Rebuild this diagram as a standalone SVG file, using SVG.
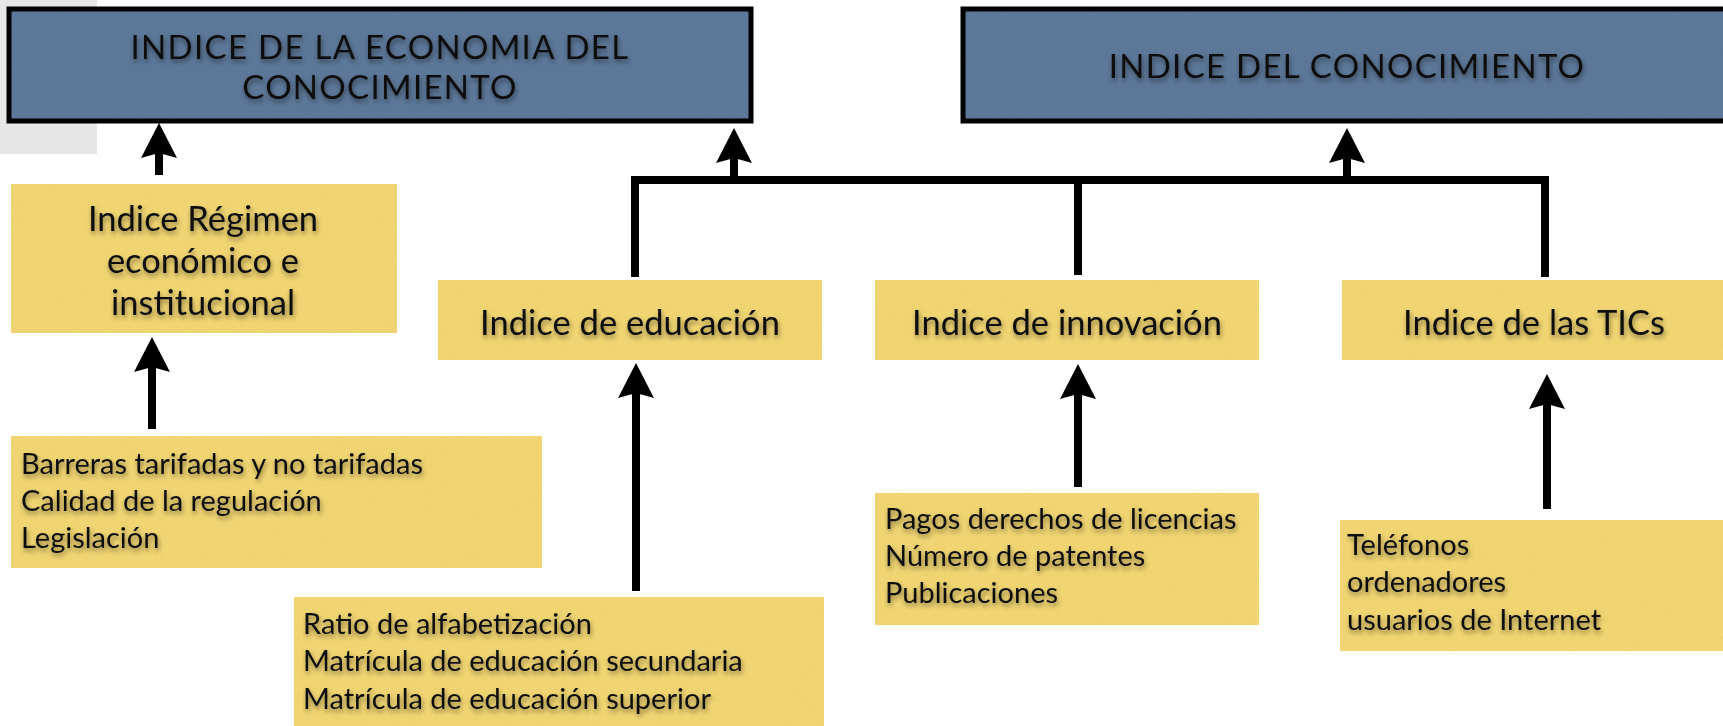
<svg xmlns="http://www.w3.org/2000/svg" width="1723" height="726" viewBox="0 0 1723 726">
  <defs>
    <style>
      .blue { fill: #5e7a9b; filter: url(#paper); }
      .border { fill: none; stroke: #000; stroke-width: 5; }
      .yellow { fill: #f5d975; filter: url(#paper); }
      .title { font-family: Lato, "Open Sans", sans-serif; font-size: 33px; letter-spacing: 1.3px; fill: #111; text-anchor: middle; filter: url(#shadow); }
      .head { font-family: Lato, "Open Sans", sans-serif; font-size: 34.5px; fill: #111; text-anchor: middle; filter: url(#shadow); }
      .list { font-family: Lato, "Open Sans", sans-serif; font-size: 29px; fill: #111; filter: url(#shadow); }
      .conn { fill: none; stroke: #000; stroke-width: 8; }
      .arrow { fill: none; stroke: #000; stroke-width: 8; marker-end: url(#ah); }
    </style>
    <filter id="shadow" x="-10%" y="-30%" width="120%" height="160%">
      <feDropShadow dx="1" dy="3" stdDeviation="2.5" flood-color="#000" flood-opacity="0.45"/>
    </filter>
    <filter id="paper" x="0" y="0" width="100%" height="100%">
      <feTurbulence type="fractalNoise" baseFrequency="0.6" numOctaves="2" seed="3" result="noise"/>
      <feColorMatrix in="noise" type="matrix" values="0 0 0 0 0  0 0 0 0 0  0 0 0 0 0  0 0 0 0.09 0" result="dark"/>
      <feComposite in="dark" in2="SourceGraphic" operator="in" result="tex"/>
      <feMerge>
        <feMergeNode in="SourceGraphic"/>
        <feMergeNode in="tex"/>
      </feMerge>
    </filter>
    <marker id="ah" markerUnits="userSpaceOnUse" viewBox="-8 -20 42 40" markerWidth="42" markerHeight="40" refX="0" refY="0" orient="auto" overflow="visible">
      <path d="M 30 0 L -5 -18 L 0 0 L -5 18 Z" fill="#000"/>
    </marker>
  </defs>

  <rect x="0" y="0" width="97" height="154" fill="#e6e6e6"/>

  <g id="node-indice-economia">
    <rect class="blue" x="9" y="9" width="742" height="112"/>
    <rect class="border" x="9" y="9" width="742" height="112"/>
    <text class="title"><tspan x="380" y="59">INDICE DE LA ECONOMIA DEL</tspan><tspan x="380" y="99">CONOCIMIENTO</tspan></text>
  </g>

  <g id="node-indice-conocimiento">
    <rect class="blue" x="963" y="9" width="780" height="112"/>
    <rect class="border" x="963" y="9" width="780" height="112"/>
    <text class="title" x="1347" y="78">INDICE DEL CONOCIMIENTO</text>
  </g>

  <g id="node-regimen">
    <rect class="yellow" x="11" y="184" width="386" height="149"/>
    <text class="head"><tspan x="203" y="231">Indice Régimen</tspan><tspan x="203" y="273">económico e</tspan><tspan x="203" y="315">institucional</tspan></text>
  </g>

  <g id="node-barreras">
    <rect class="yellow" x="11" y="436" width="531" height="132"/>
    <text class="list"><tspan x="21" y="474">Barreras tarifadas y no tarifadas</tspan><tspan x="21" y="511">Calidad de la regulación</tspan><tspan x="21" y="548">Legislación</tspan></text>
  </g>

  <g id="node-educacion">
    <rect class="yellow" x="438" y="280" width="384" height="80"/>
    <text class="head" x="630" y="335">Indice de educación</text>
  </g>

  <g id="node-ratio">
    <rect class="yellow" x="294" y="597" width="530" height="129"/>
    <text class="list"><tspan x="303" y="634">Ratio de alfabetización</tspan><tspan x="303" y="671">Matrícula de educación secundaria</tspan><tspan x="303" y="709">Matrícula de educación superior</tspan></text>
  </g>

  <g id="node-innovacion">
    <rect class="yellow" x="875" y="280" width="384" height="80"/>
    <text class="head" x="1067" y="335">Indice de innovación</text>
  </g>

  <g id="node-pagos">
    <rect class="yellow" x="875" y="493" width="384" height="132"/>
    <text class="list"><tspan x="885" y="529">Pagos derechos de licencias</tspan><tspan x="885" y="566">Número de patentes</tspan><tspan x="885" y="603">Publicaciones</tspan></text>
  </g>

  <g id="node-tics">
    <rect class="yellow" x="1342" y="280" width="390" height="80"/>
    <text class="head" x="1534" y="335">Indice de las TICs</text>
  </g>

  <g id="node-telefonos">
    <rect class="yellow" x="1340" y="520" width="390" height="131"/>
    <text class="list"><tspan x="1347" y="555">Teléfonos</tspan><tspan x="1347" y="592">ordenadores</tspan><tspan x="1347" y="630">usuarios de Internet</tspan></text>
  </g>

  <g id="connectors">
    <path class="conn" d="M 635 277 V 180 H 1545 V 277"/>
    <path class="conn" d="M 1078 180 V 275"/>
    <path class="arrow" d="M 734 184 V 158"/>
    <path class="arrow" d="M 1347 184 V 158"/>
    <path class="arrow" d="M 159 175 V 153"/>
    <path class="arrow" d="M 152 429 V 367"/>
    <path class="arrow" d="M 636 591 V 393"/>
    <path class="arrow" d="M 1078 487 V 394"/>
    <path class="arrow" d="M 1547 509 V 404"/>
  </g>
</svg>
